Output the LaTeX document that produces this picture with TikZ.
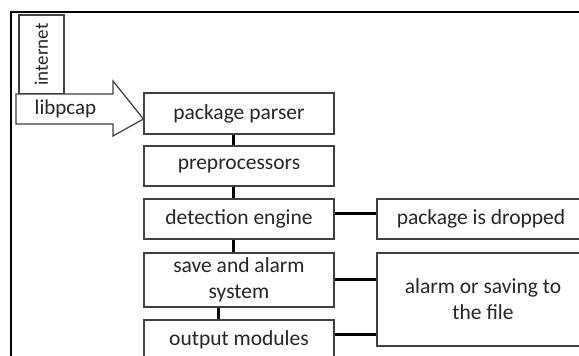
\documentclass[tikz,border=0pt]{standalone}
\usepackage{fontspec}
\setmainfont{Carlito}
\begin{document}
\begin{tikzpicture}[x=1pt,y=-1pt,
  box/.style={draw=black!75, line width=1.2pt, rectangle, inner sep=0pt, align=center, font=\fontsize{21.5}{26}\selectfont, text=black!85},
  link/.style={line width=3pt, black},
  frame/.style={line width=1.6pt, black}]
\useasboundingbox (0,0) rectangle (579,356);
\fill[white] (0,0) rectangle (579,356);
% outer frame (top and left)
\draw[frame] (11,356) -- (11,12) -- (579,12);
% internet box
\node[box, minimum width=45pt, minimum height=79pt] (inet) at (41.5,54.5) {};
\node[rotate=90, font=\fontsize{19}{22}\selectfont, text=black!85] (inettxt) at (inet.center) {internet};
% main column
\node[box, minimum width=190pt, minimum height=41pt] (pp) at (239,113.5) {package parser};
\node[box, minimum width=190pt, minimum height=40pt] (pre) at (239,166) {preprocessors};
\node[box, minimum width=190pt, minimum height=40pt] (de) at (239,219) {detection engine};
\node[box, minimum width=190pt, minimum height=54pt] (sa) at (239,280) {save and alarm\\system};
\node[box, minimum width=190pt, minimum height=40pt] (om) at (239,340) {output modules};
% right column
\node[box, minimum width=208pt, minimum height=40pt] (pd) at (481,219) {package is dropped};
\node[box, minimum width=212pt, minimum height=93pt] (al) at (483,299.5) {alarm or saving to\\the file};
% libpcap arrow
\draw[draw=black!75, line width=1.2pt, fill=white] (16,94) -- (113,94) -- (113,81) -- ([yshift=-5.5pt]pp.west) -- (113,136) -- (113,124) -- (16,124) -- cycle;
\node[font=\fontsize{21}{25}\selectfont, text=black!85] (lib) at (65.5,109) {libpcap};
% connectors
\draw[link] ([xshift=-6pt]pp.south) -- ([xshift=-6pt]pre.north);
\draw[link] ([xshift=-6pt]pre.south) -- ([xshift=-6pt]de.north);
\draw[link] ([xshift=-6pt]de.south) -- ([xshift=-6pt]sa.north);
\draw[link] ([xshift=-21pt]sa.south) -- ([xshift=-21pt]om.north);
\draw[link] ([yshift=6pt]de.east) -- ([yshift=6pt]de.east -| pd.west);
\draw[link] ([yshift=1pt]sa.east) -- ([yshift=1pt]sa.east -| al.west);
\draw[link] ([yshift=6pt]om.east) -- ([yshift=6pt]om.east -| al.west);
\end{tikzpicture}
\end{document}
